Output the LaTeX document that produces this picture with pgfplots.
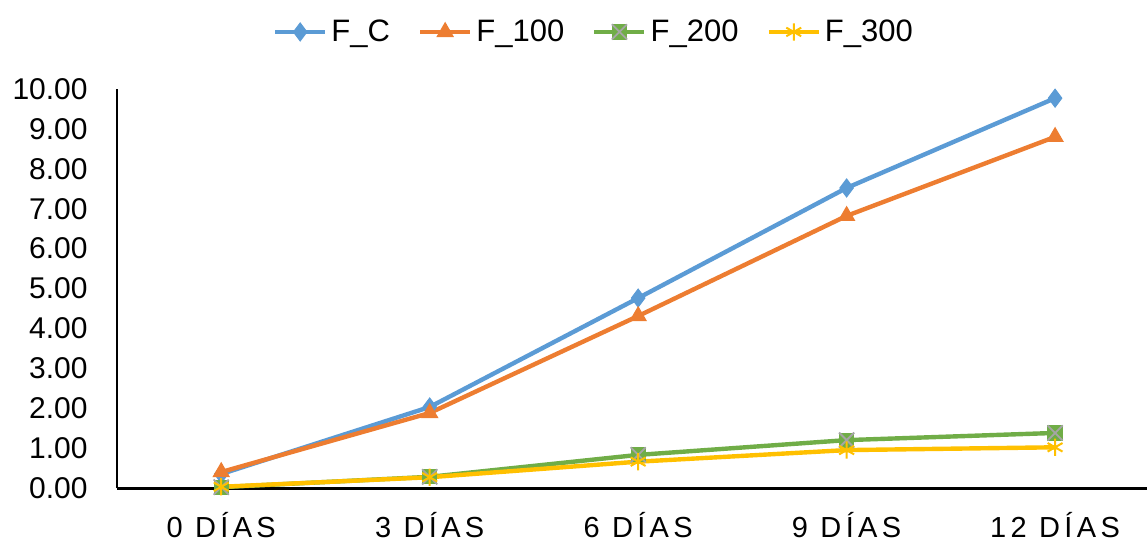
\documentclass[border=0pt]{standalone}
\usepackage{pgfplots}
\pgfplotsset{compat=1.18}
\usepackage{fontspec}
\setmainfont{Liberation Sans}
\definecolor{cblue}{HTML}{5B9BD5}
\definecolor{corange}{HTML}{ED7D31}
\definecolor{cgreen}{HTML}{70AD47}
\definecolor{cgray}{HTML}{A5A5A5}
\definecolor{cyellow}{HTML}{FFC000}
\pgfdeclareplotmark{xbox}{%
  \pgfpathrectangle{\pgfqpoint{-\pgfplotmarksize}{-\pgfplotmarksize}}{\pgfqpoint{2\pgfplotmarksize}{2\pgfplotmarksize}}%
  \pgfsetfillcolor{cgreen}\pgfusepathqfill
  \pgfsetstrokecolor{cgray}\pgfsetlinewidth{0.9pt}%
  \pgfpathmoveto{\pgfqpoint{-\pgfplotmarksize}{-\pgfplotmarksize}}%
  \pgfpathlineto{\pgfqpoint{\pgfplotmarksize}{\pgfplotmarksize}}%
  \pgfpathmoveto{\pgfqpoint{-\pgfplotmarksize}{\pgfplotmarksize}}%
  \pgfpathlineto{\pgfqpoint{\pgfplotmarksize}{-\pgfplotmarksize}}%
  \pgfusepathqstroke
}
\begin{document}
\begin{tikzpicture}
\begin{axis}[
  scale only axis,
  width=515pt, height=199.5pt,
  xmin=-0.5, xmax=4.441,
  ymin=0, ymax=10,
  axis x line*=bottom, axis y line*=left,
  x axis line style={-, line width=1.5pt, black},
  y axis line style={-, line width=1pt, black},
  xtick={0,1,2,3,4},
  xticklabels={0 DÍAS,3 DÍAS,6 DÍAS,9 DÍAS,12 DÍAS},
  ytick={0,1,...,10},
  major tick length=0pt,
  tick style={draw=none},
  yticklabel style={anchor=east, inner sep=0pt, xshift=-14.5pt, font=\fontsize{15}{17}\selectfont},
  xticklabel style={anchor=north, inner sep=0pt, yshift=-12pt, font=\fontsize{14.5}{16}\selectfont\addfontfeature{LetterSpace=15}},
  /pgf/number format/.cd, fixed, fixed zerofill, precision=2, assume math mode=true,
  /pgfplots/.cd,
  clip=false,
  legend columns=4,
  legend style={draw=none, fill=none, at={(0.464,1.143)}, anchor=center,
    font=\fontsize{15.5}{17}\selectfont, inner sep=0pt,
    /tikz/every even column/.append style={column sep=12pt}},
  legend cell align=left,
  legend image code/.code={\draw[mark repeat=2,mark phase=2,#1] plot coordinates {(0pt,0pt)(12.5pt,0pt)(25pt,0pt)};},
  every axis plot/.append style={line width=2.2pt},
]
\addplot[cblue, mark=diamond*, mark size=4.5pt, mark options={solid, fill=cblue, draw=cblue, line width=0.5pt}]
  coordinates {(0,0.35) (1,2.03) (2,4.76) (3,7.52) (4,9.77)};
\addlegendentry{F\_C}
\addplot[corange, mark=triangle*, mark size=4.6pt, mark options={solid, fill=corange, draw=corange, line width=0.5pt}]
  coordinates {(0,0.40) (1,1.88) (2,4.31) (3,6.82) (4,8.80)};
\addlegendentry{F\_100}
\addplot[cgreen, mark=xbox, mark size=3.8pt, mark options={solid}]
  coordinates {(0,0.02) (1,0.28) (2,0.83) (3,1.20) (4,1.38)};
\addlegendentry{F\_200}
\addplot[cyellow, mark=asterisk, mark size=4.3pt, mark options={solid, line width=1pt}]
  coordinates {(0,0.03) (1,0.27) (2,0.66) (3,0.95) (4,1.02)};
\addlegendentry{F\_300}
\end{axis}
\pgfresetboundingbox
\path (-58.5pt,-26.5pt) rectangle (515pt,244pt);
\end{tikzpicture}
\end{document}
